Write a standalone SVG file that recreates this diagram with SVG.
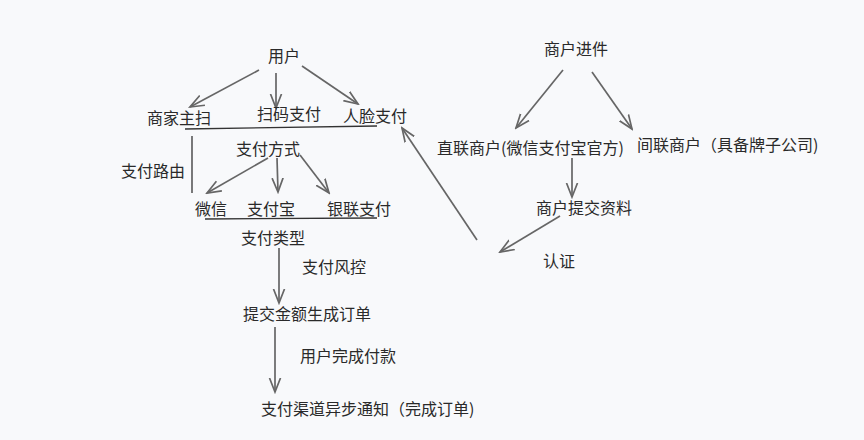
<svg xmlns="http://www.w3.org/2000/svg" width="864" height="440" viewBox="0 0 864 440">
<defs>
<style>
text{font-family:"Noto Sans CJK SC","Microsoft YaHei",sans-serif;font-size:16px;fill:#2a2a2a;dominant-baseline:central}
.a{stroke:#666;stroke-width:1.7;fill:none;marker-end:url(#ah)}
.l{stroke:#333;stroke-width:1.3;fill:none}
</style>
<marker id="ah" viewBox="0 0 16 14" refX="14" refY="7" markerWidth="16" markerHeight="14" markerUnits="userSpaceOnUse" orient="auto">
<path d="M0,1.5 L14,7 L0,12.5" fill="none" stroke="#666" stroke-width="1.7"/>
</marker>
</defs>
<rect width="864" height="440" fill="#f8f9fb"/>
<g id="connectors">
<path class="a" d="M259,70 L190,107"/>
<path class="a" d="M276,73 L276,108"/>
<path class="a" d="M302,66 L358,104"/>
<path class="l" d="M185,129 L377,126"/>
<path class="l" d="M192,136 L192,193"/>
<path class="a" d="M268,158 L207,193"/>
<path class="a" d="M277,158 L278,192"/>
<path class="a" d="M300,155 L329,193"/>
<path class="l" d="M205,219 L377,218"/>
<path class="a" d="M279,248 L279,303"/>
<path class="a" d="M275,327 L275,392"/>
<path class="a" d="M563,70 L516,128"/>
<path class="a" d="M592,72 L632,129"/>
<path class="a" d="M572,158 L572,197"/>
<path class="a" d="M560,216 L500,252"/>
<path class="a" d="M477,240 L402,128"/>
</g>
<g id="n-user"><text x="284" y="55" text-anchor="middle">用户</text></g>
<g id="n-merchant-scan"><text x="147" y="117">商家主扫</text></g>
<g id="n-scan-pay"><text x="257" y="113">扫码支付</text></g>
<g id="n-face-pay"><text x="343" y="115">人脸支付</text></g>
<g id="n-route"><text x="121" y="170">支付路由</text></g>
<g id="n-method"><text x="268" y="148" text-anchor="middle">支付方式</text></g>
<g id="n-wechat"><text x="195" y="208">微信</text></g>
<g id="n-alipay"><text x="247" y="208">支付宝</text></g>
<g id="n-unionpay"><text x="327" y="208">银联支付</text></g>
<g id="n-type"><text x="273" y="237" text-anchor="middle">支付类型</text></g>
<g id="n-risk"><text x="302" y="266">支付风控</text></g>
<g id="n-order"><text x="243" y="313">提交金额生成订单</text></g>
<g id="n-paid"><text x="300" y="355">用户完成付款</text></g>
<g id="n-notify"><text x="261" y="408">支付渠道异步通知（完成订单)</text></g>
<g id="n-onboard"><text x="544" y="48">商户进件</text></g>
<g id="n-direct"><text x="437" y="147">直联商户(微信支付宝官方)</text></g>
<g id="n-indirect"><text x="637" y="144">间联商户（具备牌子公司)</text></g>
<g id="n-submit"><text x="536" y="207">商户提交资料</text></g>
<g id="n-auth"><text x="543" y="260">认证</text></g>
</svg>
